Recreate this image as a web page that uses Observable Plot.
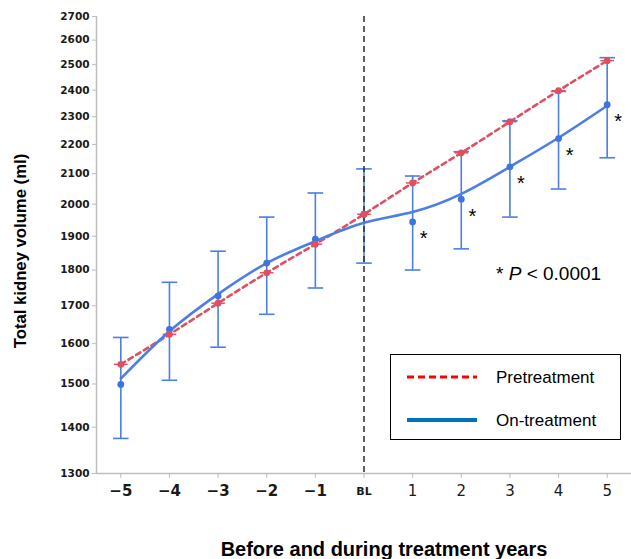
<!DOCTYPE html>
<html>
<head>
<meta charset="utf-8">
<script src="https://cdn.jsdelivr.net/npm/d3@7"></script>
<script src="https://cdn.jsdelivr.net/npm/@observablehq/plot@0.6"></script>
<style>
  body { margin: 0; background: #fff; }
  #wrap { position: relative; width: 631px; height: 559px; font-family: "Liberation Sans", Arial, sans-serif; }
  #wrap svg { display: block; }
  .pnote { position: absolute; left: 496px; top: 263px; font-size: 19px; color: #000; white-space: nowrap; }
  .legend { position: absolute; left: 390px; top: 354px; width: 229px; height: 84px; border: 1.5px solid #000; background: #fff; }
  .legend svg { position: absolute; left: 0; top: 0; }
</style>
</head>
<body>
<div id="wrap"></div>
<script>
// ---- data ----
const years = [-5, -4, -3, -2, -1, 0, 1, 2, 3, 4, 5];
const yearLabels = ["−5", "−4", "−3", "−2", "−1", "BL", "1", "2", "3", "4", "5"];
const pretreatment = [1548, 1624, 1707, 1792, 1876, 1968, 2069, 2171, 2282, 2398, 2516];
const onTreatment = [1499, 1637, 1727, 1820, 1891, 1968, 1944, 2016, 2123, 2221, 2345];
const onTreatmentLow = [1375, 1509, 1591, 1677, 1749, 1820, 1800, 1862, 1959, 2049, 2154];
const onTreatmentHigh = [1616, 1765, 1855, 1959, 2036, 2116, 2092, 2175, 2285, 2395, 2528];
const onTreatmentFit = [1513, 1632, 1732, 1820, 1885, 1941, 1975, 2033, 2123, 2224, 2341];
const significant = [false, false, false, false, false, false, true, true, true, true, true];
const yTicks = [1300, 1400, 1500, 1600, 1700, 1800, 1900, 2000, 2100, 2200, 2300, 2400, 2500, 2600, 2700];

const rows = years.map((x, i) => ({
  x, label: yearLabels[i], pre: pretreatment[i], on: onTreatment[i],
  lo: onTreatmentLow[i], hi: onTreatmentHigh[i], fit: onTreatmentFit[i], sig: significant[i]
}));

const blue = "#4a7fe3";
const red = "#df4f5f";
const capBlue = 0.16, capRed = 0.14;

const chart = Plot.plot({
  width: 631,
  height: 559,
  marginTop: 16,
  marginBottom: 86,
  marginLeft: 96,
  marginRight: 0,
  x: { type: "linear", domain: [-5.5, 5.5], axis: null },
  y: { type: "log", domain: [1300, 2700], axis: null },
  marks: [
    // axes lines
    Plot.ruleX([-5.5], { stroke: "#bdbdbd", strokeWidth: 1.5 }),
    Plot.ruleY([1300], { stroke: "#bdbdbd", strokeWidth: 1.5 }),
    Plot.axisY({ ticks: yTicks, tickSize: 4, tickPadding: 3, stroke: "#bdbdbd", fill: "#1a1a1a",
      fontSize: 10.5, fontWeight: "bold", fontFamily: "DejaVu Sans", tickFormat: d => String(d), label: null }),
    Plot.axisX({ ticks: years, tickSize: 5, stroke: "#bdbdbd", tickFormat: () => "", label: null }),
    Plot.text(rows.filter(d => d.x < 0), { x: "x", text: "label", frameAnchor: "bottom", lineAnchor: "middle", dy: 18,
      fontSize: 15, fontWeight: "bold", fontFamily: "DejaVu Sans", fill: "#1a1a1a" }),
    Plot.text(rows.filter(d => d.x === 0), { x: "x", text: "label", frameAnchor: "bottom", lineAnchor: "middle", dy: 18,
      fontSize: 11, fontWeight: "bold", fontFamily: "DejaVu Sans", fill: "#1a1a1a" }),
    Plot.text(rows.filter(d => d.x > 0), { x: "x", text: "label", frameAnchor: "bottom", lineAnchor: "middle", dy: 18,
      fontSize: 15, fontFamily: "DejaVu Sans", fill: "#1a1a1a" }),
    // on-treatment error bars
    Plot.ruleX(rows, { x: "x", y1: "lo", y2: "hi", stroke: blue, strokeWidth: 1.6 }),
    Plot.link(rows, { x1: d => d.x - capBlue, x2: d => d.x + capBlue, y1: "lo", y2: "lo", stroke: blue, strokeWidth: 1.6 }),
    Plot.link(rows, { x1: d => d.x - capBlue, x2: d => d.x + capBlue, y1: "hi", y2: "hi", stroke: blue, strokeWidth: 1.6 }),
    // baseline divider
    Plot.ruleX([0], { stroke: "#2b2b2b", strokeWidth: 1.5, strokeDasharray: "6,4" }),
    // pretreatment
    Plot.line(rows, { x: "x", y: "pre", stroke: red, strokeWidth: 2.6, strokeDasharray: "5,4", curve: "natural" }),
    Plot.link(rows, { x1: d => d.x - capRed, x2: d => d.x + capRed, y1: "pre", y2: "pre", stroke: red, strokeWidth: 1.5 }),
    // on-treatment
    Plot.line(rows, { x: "x", y: "fit", stroke: blue, strokeWidth: 2.6, curve: "natural" }),
    Plot.dot(rows, { x: "x", y: "on", r: 3.4, fill: "#3f74de" }),
    Plot.dot(rows, { x: "x", y: "pre", r: 3.4, fill: red }),
    Plot.text(rows.filter(d => d.sig), { x: "x", y: "on", text: () => "*", dx: 11, dy: 17,
      fontSize: 20, fontFamily: "Liberation Sans", fill: "#000" }),
    // axis titles
    Plot.text(["Total kidney volume (ml)"], { frameAnchor: "left", textAnchor: "middle", lineAnchor: "middle",
      dx: -76, dy: 6, rotate: -90, text: d => d,
      fontSize: 16.7, fontWeight: "bold", fontFamily: "Liberation Sans", fill: "#000" }),
    Plot.text(["Before and during treatment years"], { frameAnchor: "bottom", lineAnchor: "middle", dx: 20, dy: 76, text: d => d,
      fontSize: 20, fontWeight: "bold", fontFamily: "Liberation Sans", fill: "#000" })
  ]
});

const wrap = document.getElementById("wrap");
wrap.appendChild(chart);

const note = document.createElement("div");
note.className = "pnote";
note.innerHTML = "* <i>P</i> &lt; 0.0001";
wrap.appendChild(note);

const legend = document.createElement("div");
legend.className = "legend";
legend.innerHTML = `<svg width="229" height="84" font-family="Liberation Sans, Arial, sans-serif" font-size="17">
  <line x1="16" x2="86" y1="22" y2="22" stroke="#ff0000" stroke-width="3" stroke-dasharray="7,4"></line>
  <text x="105" y="28" fill="#000">Pretreatment</text>
  <line x1="16" x2="86" y1="65" y2="65" stroke="#0070c0" stroke-width="4"></line>
  <text x="105" y="71" fill="#000">On-treatment</text>
</svg>`;
wrap.appendChild(legend);
</script>
</body>
</html>
